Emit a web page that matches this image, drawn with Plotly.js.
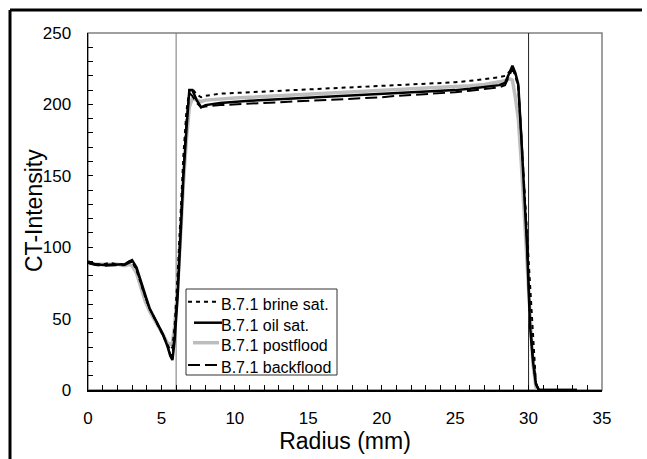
<!DOCTYPE html>
<html>
<head>
<meta charset="utf-8">
<script src="https://cdn.plot.ly/plotly-3.0.1.min.js"></script>
<style>html,body{margin:0;padding:0;background:#fff;}#chart{width:647px;height:459px;}</style>
</head>
<body>
<div id="chart"></div>
<script>
// Radius (mm)
const radius = [0,0.5,1,1.5,2,2.5,2.8,3.0,3.3,3.6,3.9,4.2,4.5,4.8,5.1,5.4,5.6,5.75,5.9,6.1,6.3,6.5,6.7,6.9,7.1,7.4,7.7,8.0,9,10,11,12,13,14,15,16,17,18,19,20,21,22,23,24,25,26,27,28,28.4,28.7,28.9,29.1,29.3,29.5,29.7,29.9,30.1,30.3,30.5,30.7,31,32,33,33.3];

const brineSat = [89,88,88,89,88,88,90,90,84,74,65,57,51,45,39,32,28,30,45,80,125,165,195,210,211,207,205,206,207.5,208,208.5,209,209.5,210,210.5,211,211.5,212,212.5,213,213.5,214,214.5,215,215.5,216.5,217.5,219,220,223,225,220,212,178,142,105,70,35,5,0,0,0,0,0];

const oilSat = [90,88,87.5,87.5,87.5,88,90,91,86,76,66,57,51,45,39,31,24,21,35,65,110,150,182,210,210,203,198,199.5,201,202,202.5,203,203.5,204,204.5,205,205.5,206,206.5,207,207.5,208.5,209,209.5,210,211,212,213.5,215,222,227,222,214,178,140,100,45,20,4,0,0,0,0,0];

const postflood = [89,88,88,88,88,87,88,87,82,72,62,55,50,44,39,33,32,33,45,70,110,145,175,198,204,203,202,203,204,204.5,205,205.5,206,206.5,207,207.5,208,208.5,209,209.5,210,210.5,211,211.5,212,213,214,215.5,216.5,218,217,205,190,160,125,92,50,18,2,0,0,0,0,0];

const backflood = [89,87.5,87,87,87,87.5,89,90,85,75,65,57,51,45,39,31,25,24,40,70,115,155,188,208,206,201,198,198.5,199.5,200,200.5,201,201.5,202,202.5,203,203.5,204,204.5,205,206,206.5,207,208,208.5,209.5,210.5,212,213.5,220,225,221,213,180,144,104,47,22,5,0,0,0,0,0];

const seriesNames = ["B.7.1 brine sat.","B.7.1 oil sat.","B.7.1 postflood","B.7.1 backflood"];
const boundaryRadii = [6, 30];
const xTitle = 'Radius (mm)';
const yTitle = 'CT-Intensity';

// series styles (legend order)
const styles = [
  {color: '#000', width: 2, dash: '4px,4px'},
  {color: '#000', width: 2.5, dash: 'solid'},
  {color: '#bdbdbd', width: 3.5, dash: 'solid'},
  {color: '#000', width: 2, dash: '12px,5px'}
];
const seriesData = [brineSat, oilSat, postflood, backflood];
const drawOrder = [2, 3, 1, 0];

const traces = drawOrder.map(i => ({
  x: radius, y: seriesData[i], name: seriesNames[i], mode: 'lines',
  line: styles[i], showlegend: false
}));

// pixel -> paper helpers (plot area 88..602 x 33..390)
const W = 647, H = 459, ML = 88, MR = 45, MT = 33, MB = 69;
const PW = W - ML - MR, PH = H - MT - MB;
const px = v => (v - ML) / PW;
const py = v => (H - MB - v) / PH;

const shapes = boundaryRadii.map((r, i) => ({
  type: 'line', xref: 'x', yref: 'y', x0: r, x1: r, y0: 0, y1: 250,
  line: {color: i === 0 ? '#777' : '#222', width: 1}, layer: 'below'
}));
shapes.push({type: 'rect', xref: 'paper', yref: 'paper', x0: 0, x1: 1, y0: 0, y1: 1,
  line: {color: '#808080', width: 1.5}, layer: 'below'});
// outer figure frame (top and left)
shapes.push({type: 'line', xref: 'paper', yref: 'paper', x0: px(10), x1: px(642), y0: py(10), y1: py(10),
  line: {color: '#000', width: 3}});
shapes.push({type: 'line', xref: 'paper', yref: 'paper', x0: px(10), x1: px(10), y0: py(10), y1: py(470),
  line: {color: '#000', width: 3}});

// legend box
shapes.push({type: 'rect', xref: 'paper', yref: 'paper', x0: px(186), x1: px(337), y0: py(375), y1: py(289),
  fillcolor: '#fff', line: {color: '#333', width: 1}});
const legendRowY = [301.7, 322.7, 342.7, 365];
const legendKeyX = [[188, 219], [194, 222], [193, 219], [188, 218]];
const annotations = [];
seriesNames.forEach((name, i) => {
  shapes.push({type: 'line', xref: 'paper', yref: 'paper',
    x0: px(legendKeyX[i][0]), x1: px(legendKeyX[i][1]), y0: py(legendRowY[i]), y1: py(legendRowY[i]),
    line: styles[i]});
  annotations.push({xref: 'paper', yref: 'paper', x: px(219), y: py(legendRowY[i] + 2.5),
    xanchor: 'left', yanchor: 'middle', showarrow: false, text: name,
    font: {size: 16, color: '#000'}});
});
annotations.push({xref: 'paper', yref: 'paper', x: px(34), y: py(211), xanchor: 'center', yanchor: 'middle',
  textangle: -90, showarrow: false, text: yTitle, font: {size: 23, color: '#000'}});

const layout = {
  width: W, height: H,
  margin: {l: ML, r: MR, t: MT, b: MB},
  paper_bgcolor: '#fff', plot_bgcolor: '#fff',
  font: {family: 'Liberation Sans, Arial, sans-serif', color: '#000', size: 17},
  showlegend: false,
  xaxis: {
    range: [0, 35], dtick: 5, tick0: 0, ticks: 'inside', ticklen: 5, tickcolor: '#000',
    showline: true, linecolor: '#000', linewidth: 1.5, showgrid: false, zeroline: false,
    minor: {dtick: 1, ticks: 'inside', ticklen: 5, tickcolor: '#000', showgrid: false},
    tickfont: {size: 17}, ticklabelstandoff: 12,
    title: {text: xTitle, font: {size: 23}, standoff: 0}
  },
  yaxis: {
    range: [0, 250], dtick: 50, tick0: 0, ticks: 'inside', ticklen: 5, tickcolor: '#000',
    showline: true, linecolor: '#000', linewidth: 1.5, showgrid: false, zeroline: false,
    minor: {dtick: 10, ticks: 'inside', ticklen: 5, tickcolor: '#000', showgrid: false},
    tickfont: {size: 17}, ticklabelstandoff: 12
  },
  shapes: shapes,
  annotations: annotations
};

Plotly.newPlot('chart', traces, layout, {displayModeBar: false, staticPlot: true});
</script>
</body>
</html>
